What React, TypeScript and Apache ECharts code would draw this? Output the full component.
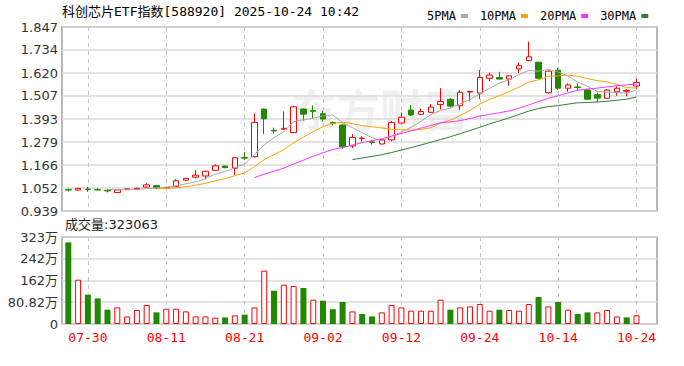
import React, { useEffect, useRef } from 'react';
import * as echarts from 'echarts';

const dates = [
  '07-28', '07-29', '07-30', '07-31', '08-01', '08-04', '08-05', '08-06', '08-07', '08-08',
  '08-11', '08-12', '08-13', '08-14', '08-15', '08-18', '08-19', '08-20', '08-21', '08-22',
  '08-25', '08-26', '08-27', '08-28', '08-29', '09-01', '09-02', '09-03', '09-04', '09-05',
  '09-08', '09-09', '09-10', '09-11', '09-12', '09-15', '09-16', '09-17', '09-18', '09-19',
  '09-22', '09-23', '09-24', '09-25', '09-26', '09-29', '09-30', '10-09', '10-10', '10-13',
  '10-14', '10-15', '10-16', '10-17', '10-20', '10-21', '10-22', '10-23', '10-24',
];

const opens = [
  1.044, 1.043, 1.047, 1.044, 1.041, 1.030, 1.046, 1.047, 1.057, 1.064,
  1.053, 1.059, 1.091, 1.106, 1.112, 1.140, 1.161, 1.150, 1.203, 1.207,
  1.442, 1.337, 1.343, 1.326, 1.442, 1.434, 1.419, 1.376, 1.363, 1.260,
  1.296, 1.280, 1.270, 1.290, 1.373, 1.437, 1.416, 1.426, 1.465, 1.490,
  1.458, 1.526, 1.521, 1.594, 1.598, 1.590, 1.640, 1.681, 1.673, 1.523,
  1.634, 1.545, 1.551, 1.536, 1.513, 1.495, 1.527, 1.530, 1.556,
];

const closes = [
  1.043, 1.051, 1.046, 1.043, 1.038, 1.043, 1.048, 1.051, 1.068, 1.054,
  1.056, 1.088, 1.100, 1.116, 1.135, 1.162, 1.153, 1.202, 1.200, 1.376,
  1.394, 1.334, 1.347, 1.453, 1.417, 1.431, 1.393, 1.372, 1.256, 1.302,
  1.299, 1.277, 1.290, 1.375, 1.402, 1.413, 1.430, 1.452, 1.479, 1.457,
  1.525, 1.529, 1.598, 1.610, 1.590, 1.606, 1.656, 1.700, 1.594, 1.629,
  1.545, 1.561, 1.548, 1.491, 1.496, 1.536, 1.545, 1.534, 1.573,
];

const lows = [
  1.036, 1.040, 1.033, 1.042, 1.031, 1.029, 1.046, 1.046, 1.055, 1.047,
  1.052, 1.058, 1.087, 1.101, 1.095, 1.137, 1.150, 1.117, 1.190, 1.203,
  1.318, 1.320, 1.340, 1.322, 1.385, 1.393, 1.380, 1.362, 1.245, 1.250,
  1.281, 1.267, 1.266, 1.283, 1.370, 1.408, 1.413, 1.423, 1.440, 1.450,
  1.437, 1.480, 1.492, 1.580, 1.588, 1.557, 1.620, 1.679, 1.589, 1.517,
  1.536, 1.528, 1.533, 1.489, 1.476, 1.493, 1.508, 1.505, 1.540,
];

const highs = [
  1.050, 1.052, 1.057, 1.052, 1.047, 1.044, 1.049, 1.054, 1.076, 1.065,
  1.058, 1.096, 1.103, 1.141, 1.138, 1.169, 1.163, 1.205, 1.229, 1.421,
  1.444, 1.350, 1.430, 1.458, 1.445, 1.460, 1.433, 1.380, 1.365, 1.318,
  1.308, 1.290, 1.293, 1.383, 1.425, 1.462, 1.445, 1.467, 1.545, 1.497,
  1.536, 1.533, 1.635, 1.622, 1.626, 1.608, 1.671, 1.774, 1.676, 1.632,
  1.646, 1.569, 1.570, 1.540, 1.523, 1.540, 1.553, 1.540, 1.592,
];

// volume in 万
const volumes = [
  303.2, 164.6, 108.9, 95.1, 53.1, 61.7, 28.2, 52.0, 70.6, 43.1,
  56.8, 56.8, 46.8, 28.2, 28.2, 23.4, 24.5, 32.0, 34.6, 61.7,
  198.0, 123.7, 146.0, 141.2, 133.8, 90.3, 86.6, 55.0, 81.7, 46.8,
  37.2, 28.2, 43.1, 70.6, 61.7, 49.4, 49.4, 49.4, 90.3, 53.1,
  61.7, 65.4, 74.3, 49.4, 53.1, 52.0, 49.4, 74.3, 100.3, 65.4,
  81.7, 53.1, 37.2, 43.1, 43.1, 52.0, 28.2, 24.5, 32.3063,
];

const priceTicks = [0.939, 1.052, 1.166, 1.279, 1.393, 1.507, 1.62, 1.734, 1.847];
const volTicks = [0, 80.82, 161.63, 242.44, 323.25];
const labelDates = ['07-30', '08-11', '08-21', '09-02', '09-12', '09-24', '10-14', '10-24'];
const maPeriods = [5, 10, 20, 30];
const maNames = ['5PMA', '10PMA', '20PMA', '30PMA'];
const maColors = ['#a8a8a8', '#f5a300', '#ff33ff', '#2f7d3a'];
const titleText = '科创芯片ETF指数[588920] 2025-10-24 10:42';

const UP = '#ff0000';
const DOWN = '#228800';

function movingAverage(n: number) {
  const out: number[][] = [];
  for (let i = n - 1; i < closes.length; i++) {
    let s = 0;
    for (let k = i - n + 1; k <= i; k++) s += closes[k];
    out.push([i, +(s / n).toFixed(4)]);
  }
  return out;
}

export default function App() {
  const ref = useRef<HTMLDivElement>(null);
  useEffect(() => {
    document.body.style.margin = '0';
    if (!ref.current) return;
    const chart = echarts.init(ref.current, undefined, { renderer: 'svg' });
    const labelIdx = labelDates.map((d) => dates.indexOf(d));
    const xCommon = {
      type: 'value',
      min: -0.643,
      max: 60.09,
      axisLine: { show: false },
      axisTick: { show: false, customValues: labelIdx },
      splitLine: { show: true, lineStyle: { color: '#c4c4c4', type: [4, 4], width: 1 } },
    };
    const volData = volumes.map((v, i) => {
      const up = i === 0 ? closes[i] >= opens[i] : closes[i] >= closes[i - 1];
      return {
        value: [i, v],
        itemStyle: up
          ? { color: '#ffffff', borderColor: UP, borderWidth: 1 }
          : { color: DOWN, borderColor: DOWN, borderWidth: 0 },
      };
    });
    const option: any = {
      animation: false,
      backgroundColor: '#ffffff',
      grid: [
        { left: 62, top: 27, width: 595, height: 184, show: true, borderColor: '#a0a0a0', borderWidth: 1.5 },
        { left: 62, top: 237, width: 595, height: 87, show: true, borderColor: '#a0a0a0', borderWidth: 1.5 },
      ],
      legend: {
        left: 422,
        top: 5,
        align: 'right',
        icon: 'rect',
        itemWidth: 7,
        itemHeight: 4,
        itemGap: 12,
        selectedMode: false,
        textStyle: { fontFamily: 'DejaVu Sans Mono', fontSize: 12, color: '#000' },
        data: maNames,
      },
      graphic: [
        {
          type: 'text',
          left: 62,
          top: 5,
          style: { text: titleText, font: '13px "DejaVu Sans Mono", "Noto Sans CJK SC"', fill: '#000' },
        },
        {
          type: 'text',
          left: 65,
          top: 218,
          style: {
            text: '成交量:' + Math.round(volumes[volumes.length - 1] * 10000),
            font: '13px "DejaVu Sans", "Noto Sans CJK SC"',
            fill: '#222',
          },
        },
        {
          type: 'text',
          left: 292,
          top: 86,
          z: -1,
          style: { text: '东方财富', font: 'bold 44px "Noto Sans CJK SC"', fill: 'rgba(0,0,0,0.07)' },
        },
      ],
      xAxis: [
        { ...xCommon, gridIndex: 0, axisLabel: { show: false, customValues: labelIdx } },
        {
          ...xCommon,
          gridIndex: 1,
          axisLabel: {
            show: true,
            customValues: labelIdx,
            formatter: (v: number) => dates[Math.round(v)],
            color: '#ff0000',
            fontFamily: 'DejaVu Sans Mono',
            fontSize: 13,
            margin: 7,
          },
        },
      ],
      yAxis: [
        {
          type: 'value',
          gridIndex: 0,
          min: 0.939,
          max: 1.847,
          axisLine: { show: false },
          axisTick: { show: false, customValues: priceTicks },
          axisLabel: {
            customValues: priceTicks,
            formatter: (v: number) => v.toFixed(3),
            fontFamily: 'DejaVu Sans',
            fontSize: 13,
            color: '#333',
            margin: 4,
          },
          splitLine: { show: true, lineStyle: { color: '#dadada', width: 1.5 } },
        },
        {
          type: 'value',
          gridIndex: 1,
          min: 0,
          max: 323.25,
          axisLine: { show: false },
          axisTick: { show: false, customValues: volTicks },
          axisLabel: {
            customValues: volTicks,
            formatter: (v: number) => (v === 0 ? '0' : v < 100 ? v.toFixed(2) + '万' : Math.round(v) + '万'),
            fontFamily: 'DejaVu Sans, Noto Sans CJK SC',
            fontSize: 13,
            color: '#333',
            margin: 4,
          },
          splitLine: { show: true, lineStyle: { color: '#dadada', width: 1.5 } },
        },
      ],
      series: [
        {
          type: 'candlestick',
          xAxisIndex: 0,
          yAxisIndex: 0,
          barWidth: 6,
          data: dates.map((d, i) => [i, opens[i], closes[i], lows[i], highs[i]]),
          itemStyle: { color: '#ffffff', color0: DOWN, borderColor: UP, borderColor0: DOWN, borderWidth: 1 },
          z: 3,
        },
        ...maPeriods.map((p, k) => ({
          type: 'line',
          name: maNames[k],
          xAxisIndex: 0,
          yAxisIndex: 0,
          data: movingAverage(p),
          showSymbol: false,
          symbol: 'none',
          lineStyle: { width: 1, color: maColors[k] },
          itemStyle: { color: maColors[k] },
          z: 4,
        })),
        {
          type: 'bar',
          xAxisIndex: 1,
          yAxisIndex: 1,
          barWidth: 6,
          data: volData,
        },
      ],
    };
    chart.setOption(option);
    return () => chart.dispose();
  }, []);
  return <div ref={ref} style={{ width: 684, height: 366 }} />;
}
